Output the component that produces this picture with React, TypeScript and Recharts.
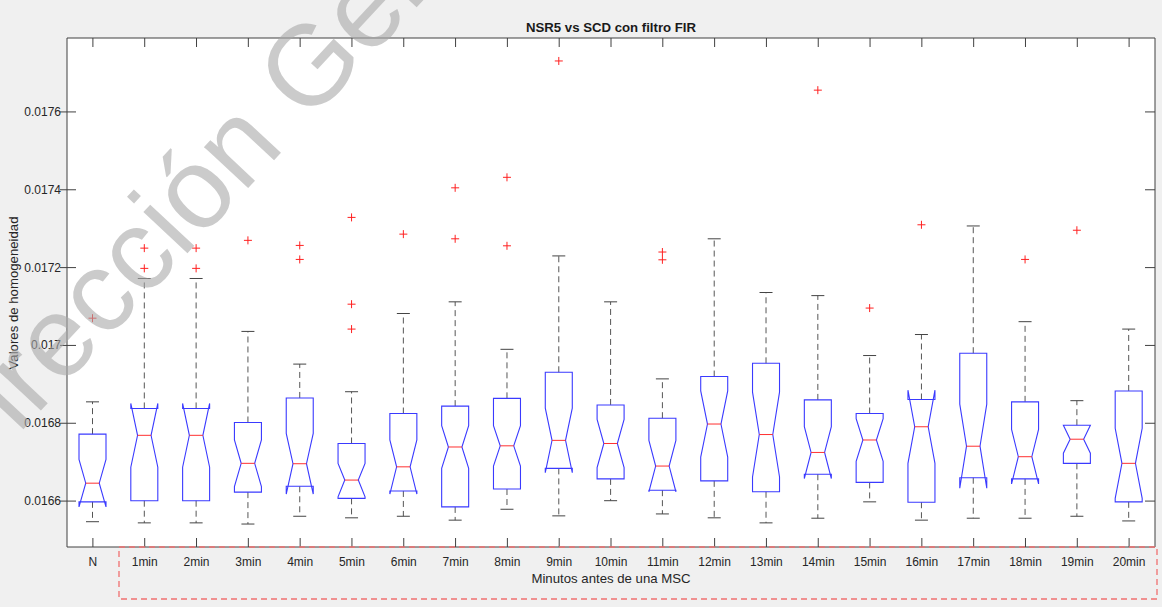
import { ComposedChart, Bar, XAxis, YAxis, CartesianGrid } from "recharts"

// categories on the x axis
const categories = [
  "N", "1min", "2min", "3min", "4min", "5min", "6min", "7min", "8min", "9min", "10min",
  "11min", "12min", "13min", "14min", "15min", "16min", "17min", "18min", "19min", "20min",
]

// box plot statistics
const lowerWhisker = [
  0.016547, 0.016544, 0.016544, 0.016541, 0.016561, 0.016557, 0.016561, 0.016551, 0.016579, 0.016562, 0.016601,
  0.016567, 0.016557, 0.016544, 0.016556, 0.016598, 0.016551, 0.016556, 0.016556, 0.016561, 0.016549,
]
const q1 = [
  0.016598, 0.016601, 0.016601, 0.016623, 0.016638, 0.016607, 0.016626, 0.016585, 0.016631, 0.016684, 0.016657,
  0.016628, 0.016652, 0.016624, 0.016669, 0.016648, 0.016597, 0.01666, 0.016657, 0.016697, 0.016598,
]
const notchLow = [
  0.016585, 0.016687, 0.016687, 0.016637, 0.016618, 0.016611, 0.016618, 0.016684, 0.01669, 0.016673, 0.016686,
  0.016624, 0.016713, 0.016662, 0.016658, 0.016702, 0.016697, 0.016633, 0.016644, 0.016723, 0.016607,
]
const median = [
  0.016646, 0.016769, 0.016769, 0.016697, 0.016696, 0.016654, 0.016688, 0.016739, 0.016742, 0.016756, 0.016748,
  0.01669, 0.016798, 0.016771, 0.016725, 0.016757, 0.016791, 0.016741, 0.016714, 0.016759, 0.016697,
]
const notchHigh = [
  0.016707, 0.016851, 0.016851, 0.016757, 0.016774, 0.016697, 0.016757, 0.016794, 0.016794, 0.016839, 0.01681,
  0.016756, 0.016883, 0.01688, 0.016791, 0.016812, 0.016885, 0.016849, 0.016784, 0.016795, 0.016787,
]
const q3 = [
  0.016772, 0.016838, 0.016838, 0.016802, 0.016865, 0.016748, 0.016825, 0.016844, 0.016864, 0.016931, 0.016847,
  0.016813, 0.01692, 0.016954, 0.01686, 0.016825, 0.016861, 0.01698, 0.016855, 0.016795, 0.016883,
]
const upperWhisker = [
  0.016855, 0.017172, 0.017172, 0.017036, 0.016952, 0.016881, 0.017082, 0.017112, 0.01699, 0.01723, 0.017112,
  0.016914, 0.017274, 0.017136, 0.017128, 0.016974, 0.017028, 0.017307, 0.017061, 0.016858, 0.017042,
]
const outliers = [
  [0.01707], [0.01725, 0.017198], [0.01725, 0.017198], [0.01727], [0.017257, 0.017221],
  [0.017329, 0.017106, 0.017042], [0.017286], [0.017405, 0.017274], [0.017432, 0.017256], [0.017731], [],
  [0.01724, 0.01722], [], [], [0.017656], [0.017096], [0.01731], [], [0.017221], [0.017296], [],
]

const yTicks = [0.0166, 0.0168, 0.017, 0.0172, 0.0174, 0.0176]
const yDomain = [0.016482, 0.01779]

const rows = categories.map((cat, i) => ({
  cat,
  lo: lowerWhisker[i],
  q1: q1[i],
  nlo: notchLow[i],
  med: median[i],
  nhi: notchHigh[i],
  q3: q3[i],
  hi: upperWhisker[i],
  out: outliers[i],
}))

const AXIS = "#404040"
const FONT = "'Liberation Sans', Arial, sans-serif"

// notched box drawn inside the range bar [lower whisker, upper whisker]
function NotchBox(props: any) {
  const { x, y, width, height, payload } = props
  const top = Math.min(y, y + height)
  const h = Math.abs(height)
  const k = h / (payload.hi - payload.lo)
  const py = (v: number) => top + (payload.hi - v) * k
  const cx = x + width / 2
  const hw = width / 2
  const cap = 6.5
  const pts = [
    [cx - hw, py(payload.q1)],
    [cx - hw, py(payload.nlo)],
    [cx - hw / 2, py(payload.med)],
    [cx - hw, py(payload.nhi)],
    [cx - hw, py(payload.q3)],
    [cx + hw, py(payload.q3)],
    [cx + hw, py(payload.nhi)],
    [cx + hw / 2, py(payload.med)],
    [cx + hw, py(payload.nlo)],
    [cx + hw, py(payload.q1)],
  ]
  const d = "M" + pts.map((p) => p[0] + "," + p[1]).join("L") + "Z"
  return (
    <g>
      <line x1={cx} x2={cx} y1={py(payload.q3)} y2={py(payload.hi)} stroke="#555" strokeDasharray="6 4" />
      <line x1={cx} x2={cx} y1={py(payload.q1)} y2={py(payload.lo)} stroke="#555" strokeDasharray="6 4" />
      <line x1={cx - cap} x2={cx + cap} y1={py(payload.hi)} y2={py(payload.hi)} stroke="#444" />
      <line x1={cx - cap} x2={cx + cap} y1={py(payload.lo)} y2={py(payload.lo)} stroke="#444" />
      <path d={d} fill="none" stroke="#3a3aff" strokeWidth={1.1} />
      <line x1={cx - hw / 2} x2={cx + hw / 2} y1={py(payload.med)} y2={py(payload.med)} stroke="#ff3030" />
      {payload.out.map((v: number, j: number) => (
        <g key={j} stroke="#ff2020">
          <line x1={cx - 4} x2={cx + 4} y1={py(v)} y2={py(v)} />
          <line x1={cx} x2={cx} y1={py(v) - 4} y2={py(v) + 4} />
        </g>
      ))}
    </g>
  )
}

function BottomTick(props: any) {
  const { x, y, payload } = props
  return (
    <g>
      <line x1={x} x2={x} y1={y} y2={y - 9} stroke={AXIS} />
      <text x={x} y={y + 19} textAnchor="middle" fontSize={12} fill="#262626" fontFamily={FONT}>
        {payload.value}
      </text>
    </g>
  )
}

function TopTick(props: any) {
  const { x, y } = props
  return <line x1={x} x2={x} y1={y} y2={y + 9} stroke={AXIS} />
}

function LeftTick(props: any) {
  const { x, y, payload } = props
  return (
    <g>
      <line x1={x - 7} x2={x + 9} y1={y} y2={y} stroke={AXIS} />
      <text x={x - 6} y={y + 4} textAnchor="end" fontSize={12} fill="#262626" fontFamily={FONT}>
        {payload.value}
      </text>
    </g>
  )
}

function RightTick(props: any) {
  const { x, y } = props
  return <line x1={x - 10} x2={x} y1={y} y2={y} stroke={AXIS} />
}

export default function App() {
  return (
    <div style={{ position: "absolute", left: 0, top: 0, width: 1162, height: 607, background: "#f0f0f0", overflow: "hidden" }}>
      <ComposedChart width={1162} height={607} data={rows} margin={{ top: 37, right: 6, bottom: 59, left: 66 }}>
        <CartesianGrid fill="#ffffff" stroke="none" horizontal={false} vertical={false} />
        <XAxis dataKey="cat" height={1} tickSize={0} tickMargin={0} tickLine={false} interval={0} axisLine={{ stroke: AXIS }} tick={<BottomTick />} />
        <XAxis xAxisId="top" orientation="top" dataKey="cat" height={1} tickSize={0} tickMargin={0} tickLine={false} interval={0} axisLine={{ stroke: AXIS }} tick={<TopTick />} />
        <YAxis type="number" domain={yDomain} ticks={yTicks} allowDataOverflow width={1} tickSize={0} tickMargin={0} tickLine={false} interval={0} axisLine={{ stroke: AXIS }} tick={<LeftTick />} />
        <YAxis yAxisId="r" orientation="right" type="number" domain={yDomain} ticks={yTicks} allowDataOverflow width={1} tickSize={0} tickMargin={0} tickLine={false} interval={0} axisLine={{ stroke: AXIS }} tick={<RightTick />} />
        <Bar dataKey={(d: any) => [d.lo, d.hi]} barSize={27} isAnimationActive={false} shape={<NotchBox />} />
      </ComposedChart>
      <svg width={1162} height={607} style={{ position: "absolute", left: 0, top: 0, pointerEvents: "none" }} fontFamily={FONT}>
        <text x={611} y={32} textAnchor="middle" fontSize={13.2} fontWeight="bold" fill="#1a1a1a">
          NSR5 vs SCD con filtro FIR
        </text>
        <text x={611} y={583} textAnchor="middle" fontSize={13.2} fill="#262626">
          Minutos antes de una MSC
        </text>
        <text x={18} y={293} textAnchor="middle" fontSize={13.2} fill="#262626" transform="rotate(-90 18 293)">
          Valores de homogeneidad
        </text>
        <rect x={119} y={547} width={1038} height={52} fill="none" stroke="#f07070" strokeWidth={1.3} strokeDasharray="6 4" />
        <text x={-38} y={495} transform="rotate(-47 -38 495)" fontSize={114} fill="#a8a8a8" fillOpacity={0.6}>
          Dirección General de Bibliotecas
        </text>
      </svg>
    </div>
  )
}
